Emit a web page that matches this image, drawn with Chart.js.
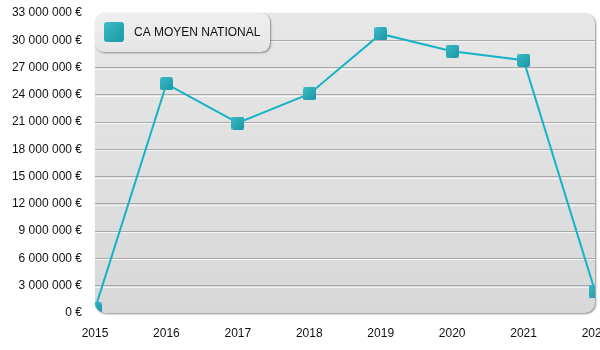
<!DOCTYPE html>
<html>
<head>
<meta charset="utf-8">
<script src="https://cdn.jsdelivr.net/npm/chart.js@4/dist/chart.umd.min.js"></script>
<style>
  html, body { margin: 0; padding: 0; background: #fff; overflow: hidden; }
  #wrap { width: 600px; height: 350px; overflow: hidden; }
  #caChart { display: block; }
</style>
</head>
<body>
<div id="wrap"><canvas id="caChart" width="640" height="350"></canvas></div>
<script>
const years = ['2015', '2016', '2017', '2018', '2019', '2020', '2021', '2022'];
const caMoyen = [450000, 25200000, 20900000, 24100000, 30700000, 28800000, 27800000, 2400000];
const seriesLabel = 'CA MOYEN NATIONAL';
const yMax = 33000000;
const yStep = 3000000;

const font = 'Liberation Sans, Arial, sans-serif';

// square marker with a teal gradient, reused for points and legend
function makeSquare(size, radius) {
  const c = document.createElement('canvas');
  c.width = size; c.height = size;
  const g = c.getContext('2d');
  const grad = g.createLinearGradient(0, 0, size, size);
  grad.addColorStop(0, '#3dbac7');
  grad.addColorStop(1, '#1a97a6');
  g.fillStyle = grad;
  g.beginPath();
  g.roundRect(0, 0, size, size, radius);
  g.fill();
  return c;
}
const pointImg = makeSquare(13, 2);
const legendImg = makeSquare(20, 3);

function euro(v) {
  return v.toString().replace(/\B(?=(\d{3})+(?!\d))/g, ' ') + ' €';
}

function plotPath(ctx, a) {
  ctx.beginPath();
  ctx.roundRect(a.left, a.top, a.right - a.left, a.bottom - a.top, 10);
}

const panelPlugin = {
  id: 'panel',
  beforeDraw(chart) {
    const { ctx, chartArea: a } = chart;
    ctx.save();
    const grad = ctx.createLinearGradient(0, a.top, 0, a.bottom);
    grad.addColorStop(0, '#e7e7e7');
    grad.addColorStop(1, '#d8d8d8');
    ctx.shadowColor = 'rgba(0,0,0,0.45)';
    ctx.shadowBlur = 2;
    ctx.shadowOffsetX = 1;
    ctx.shadowOffsetY = 1;
    ctx.fillStyle = grad;
    plotPath(ctx, a);
    ctx.fill();
    ctx.restore();
  },
  beforeDatasetsDraw(chart) {
    const { ctx, chartArea: a } = chart;
    const y = chart.scales.y;
    // white highlight under each grid line
    ctx.save();
    ctx.strokeStyle = '#f6f6f6';
    ctx.lineWidth = 1;
    y.ticks.forEach((t, i) => {
      if (i === 0 || i === y.ticks.length - 1) return;
      const py = Math.round(y.getPixelForValue(t.value)) + 1.5;
      ctx.beginPath();
      ctx.moveTo(a.left, py);
      ctx.lineTo(a.right, py);
      ctx.stroke();
    });
    ctx.restore();
    ctx.save();
    plotPath(ctx, a);
    ctx.clip();
  },
  afterDatasetsDraw(chart) {
    const { ctx, chartArea: a } = chart;
    ctx.restore();

    // legend box in the top-left corner of the plot
    const x = a.left, y = a.top, w = 175, h = 39;
    ctx.save();
    ctx.shadowColor = 'rgba(0,0,0,0.4)';
    ctx.shadowBlur = 2;
    ctx.shadowOffsetX = 1;
    ctx.shadowOffsetY = 1;
    const grad = ctx.createLinearGradient(0, y, 0, y + h);
    grad.addColorStop(0, '#efefef');
    grad.addColorStop(1, '#e6e6e6');
    ctx.fillStyle = grad;
    ctx.beginPath();
    ctx.roundRect(x, y, w, h, 9);
    ctx.fill();
    ctx.restore();

    ctx.save();
    ctx.drawImage(legendImg, x + 9, y + 9);
    ctx.fillStyle = '#111';
    ctx.font = '12px ' + font;
    ctx.textBaseline = 'middle';
    ctx.textAlign = 'left';
    ctx.fillText(chart.data.datasets[0].label, x + 39, y + 19.5);
    ctx.restore();
  }
};

new Chart(document.getElementById('caChart'), {
  type: 'line',
  data: {
    labels: years,
    datasets: [{
      label: seriesLabel,
      data: caMoyen,
      borderColor: '#16b3c6',
      borderWidth: 2,
      pointStyle: pointImg,
      pointRadius: 6,
      pointHoverRadius: 6,
      tension: 0,
      fill: false,
      clip: 0
    }]
  },
  options: {
    responsive: false,
    animation: false,
    // the canvas runs past the 600px frame so the last year label is cut at the edge
    layout: { padding: { top: 13, right: 45, left: 0, bottom: 0 } },
    plugins: {
      legend: { display: false },
      tooltip: { enabled: false }
    },
    scales: {
      x: {
        offset: false,
        grid: { display: false },
        border: { display: false },
        ticks: {
          color: '#111',
          font: { family: font, size: 12 },
          padding: 5,
          maxRotation: 0,
          autoSkip: false
        },
        afterFit(s) {
          s.height = 37;
        }
      },
      y: {
        min: 0,
        max: yMax,
        border: { display: false },
        grid: {
          drawTicks: false,
          lineWidth: 1,
          color: ctx => (ctx.index === 0 || ctx.tick.value === yMax) ? 'rgba(0,0,0,0)' : '#a9a9a9'
        },
        ticks: {
          stepSize: yStep,
          color: '#111',
          font: { family: font, size: 12 },
          padding: 13,
          callback: v => euro(v)
        },
        afterFit(s) {
          s.width = 95;
          s.paddingTop = 0;
          s.paddingBottom = 0;
        }
      }
    }
  },
  plugins: [panelPlugin]
});
</script>
</body>
</html>
